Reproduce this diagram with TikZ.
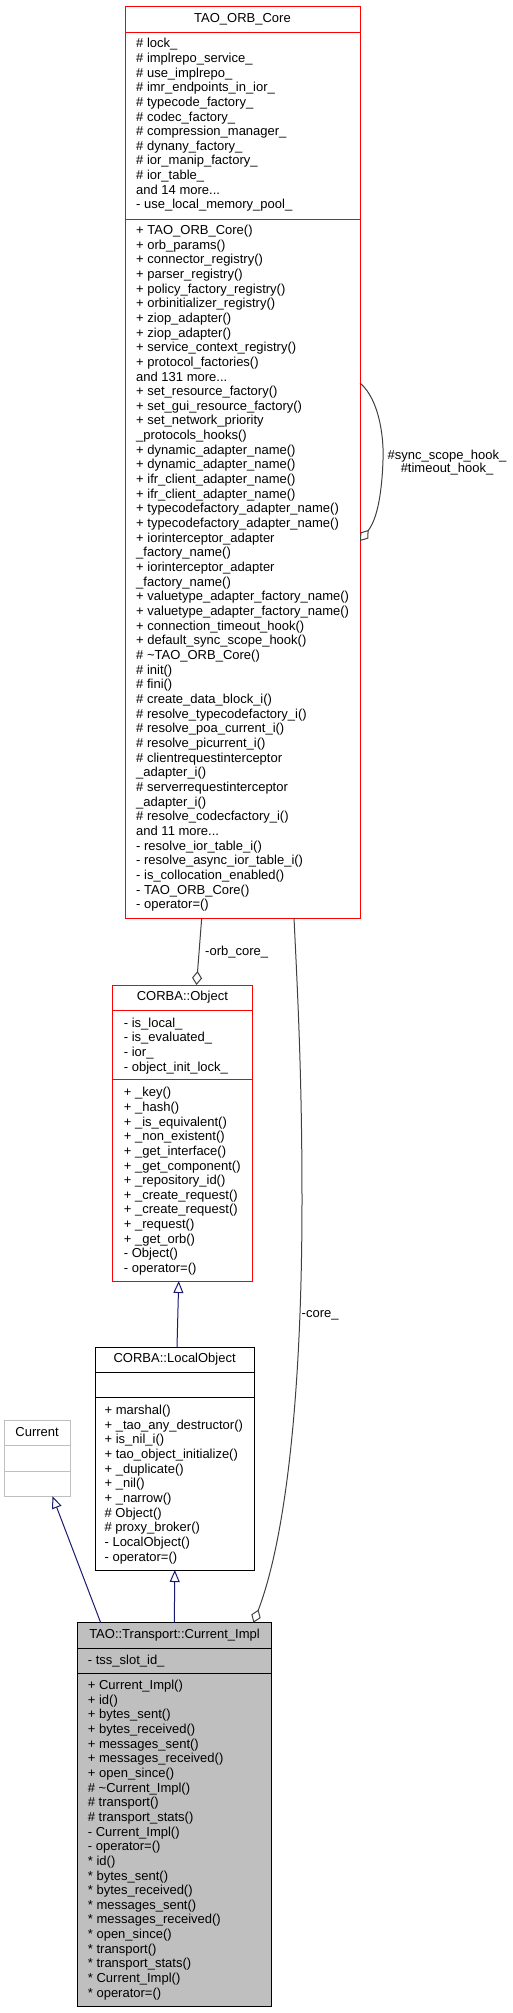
\documentclass[tikz,border=0pt]{standalone}
\usepackage{fontspec}
\setmainfont{Liberation Sans}
\usetikzlibrary{arrows.meta,calc}
\definecolor{redline}{HTML}{FF0000}
\definecolor{edgegray}{HTML}{404040}
\definecolor{navyline}{HTML}{191970}
\definecolor{greyfill}{HTML}{BFBFBF}
\newcommand{\tdots}{...}
\begin{document}
\begin{tikzpicture}[x=1pt,y=-1pt,
  cbox/.style 2 args={draw, line width=1pt, minimum width=#1, minimum height=#2, anchor=north west, inner sep=0pt, outer sep=0pt},
  txt/.style={font=\fontsize{13}{15}\selectfont, inner sep=0pt, anchor=base west},
  ttl/.style={font=\fontsize{13}{15}\selectfont, inner sep=0pt, anchor=base},
  assoc/.style={draw=edgegray, line width=1pt, -{Diamond[open, length=14pt, width=10pt]}},
  inh/.style={draw=navyline, line width=1pt, -{Triangle[open, length=12pt, width=10pt]}}]
\useasboundingbox (0,0) rectangle (513,2013);
% ---------------- TAO_ORB_Core
\node[cbox={235}{26}, draw=redline] (orbt) at (125,6) {};
\node[cbox={235}{187}, draw=redline] (orba) at (125,32) {};
\node[cbox={235}{699}, draw=redline] (orbm) at (125,219) {};
\node[ttl] (orbttl) at (242.5,22.7) {TAO\_ORB\_Core};
\foreach \mytext [count=\i from 0] in {
 {\# lock\_},{\# implrepo\_service\_},{\# use\_implrepo\_},{\# imr\_endpoints\_in\_ior\_},
 {\# typecode\_factory\_},{\# codec\_factory\_},{\# compression\_manager\_},{\# dynany\_factory\_},
 {\# ior\_manip\_factory\_},{\# ior\_table\_},{and 14 more\tdots},{- use\_local\_memory\_pool\_}}
 \node[txt] (orba\i) at (136,47.7+\i*14.66) {\mytext};
\foreach \mytext [count=\i from 0] in {
 {+ TAO\_ORB\_Core()},{+ orb\_params()},{+ connector\_registry()},{+ parser\_registry()},
 {+ policy\_factory\_registry()},{+ orbinitializer\_registry()},{+ ziop\_adapter()},{+ ziop\_adapter()},
 {+ service\_context\_registry()},{+ protocol\_factories()},{and 131 more\tdots},{+ set\_resource\_factory()},
 {+ set\_gui\_resource\_factory()},{+ set\_network\_priority},{\_protocols\_hooks()},
 {+ dynamic\_adapter\_name()},{+ dynamic\_adapter\_name()},{+ ifr\_client\_adapter\_name()},
 {+ ifr\_client\_adapter\_name()},{+ typecodefactory\_adapter\_name()},{+ typecodefactory\_adapter\_name()},
 {+ iorinterceptor\_adapter},{\_factory\_name()},{+ iorinterceptor\_adapter},{\_factory\_name()},
 {+ valuetype\_adapter\_factory\_name()},{+ valuetype\_adapter\_factory\_name()},
 {+ connection\_timeout\_hook()},{+ default\_sync\_scope\_hook()},{\# \textasciitilde TAO\_ORB\_Core()},
 {\# init()},{\# fini()},{\# create\_data\_block\_i()},{\# resolve\_typecodefactory\_i()},
 {\# resolve\_poa\_current\_i()},{\# resolve\_picurrent\_i()},{\# clientrequestinterceptor},
 {\_adapter\_i()},{\# serverrequestinterceptor},{\_adapter\_i()},{\# resolve\_codecfactory\_i()},
 {and 11 more\tdots},{- resolve\_ior\_table\_i()},{- resolve\_async\_ior\_table\_i()},
 {- is\_collocation\_enabled()},{- TAO\_ORB\_Core()},{- operator=()}}
 \node[txt] (orbm\i) at (136,234.4+\i*14.66) {\mytext};
% ---------------- CORBA::Object
\node[cbox={139.3}{25.7}, draw=redline] (objt) at (112.7,985) {};
\node[cbox={139.3}{68.6}, draw=redline] (obja) at (112.7,1010.7) {};
\node[cbox={139.3}{201.7}, draw=redline] (objm) at (112.7,1079.3) {};
\node[ttl] (objttl) at (182.35,1000.4) {CORBA::Object};
\foreach \mytext [count=\i from 0] in {
 {- is\_local\_},{- is\_evaluated\_},{- ior\_},{- object\_init\_lock\_}}
 \node[txt] (obja\i) at (123.7,1027.1+\i*14.66) {\mytext};
\foreach \mytext [count=\i from 0] in {
 {+ \_key()},{+ \_hash()},{+ \_is\_equivalent()},{+ \_non\_existent()},{+ \_get\_interface()},
 {+ \_get\_component()},{+ \_repository\_id()},{+ \_create\_request()},{+ \_create\_request()},
 {+ \_request()},{+ \_get\_orb()},{- Object()},{- operator=()}}
 \node[txt] (objm\i) at (123.7,1096.7+\i*14.66) {\mytext};
% ---------------- CORBA::LocalObject
\node[cbox={159.3}{25}, draw=black] (lot) at (95,1347.3) {};
\node[cbox={159.3}{25}, draw=black] (loa) at (95,1372.3) {};
\node[cbox={159.3}{172.7}, draw=black] (lom) at (95,1397.3) {};
\node[ttl] (lottl) at (174.65,1362.7) {CORBA::LocalObject};
\foreach \mytext [count=\i from 0] in {
 {+ marshal()},{+ \_tao\_any\_destructor()},{+ is\_nil\_i()},{+ tao\_object\_initialize()},
 {+ \_duplicate()},{+ \_nil()},{+ \_narrow()},{\# Object()},{\# proxy\_broker()},
 {- LocalObject()},{- operator=()}}
 \node[txt] (lom\i) at (104.4,1414.4+\i*14.66) {\mytext};
% ---------------- Current
\node[cbox={65.7}{25}, draw=greyfill] (curt) at (4.3,1420.7) {};
\node[cbox={65.7}{25.3}, draw=greyfill] (cura) at (4.3,1445.7) {};
\node[cbox={65.7}{25.3}, draw=greyfill] (curm) at (4.3,1471) {};
\node[ttl] (curttl) at (37.15,1436.7) {Current};
% ---------------- TAO::Transport::Current_Impl
\node[cbox={194.4}{25.6}, draw=black, fill=greyfill] (cimt) at (77.3,1622.7) {};
\node[cbox={194.4}{25}, draw=black, fill=greyfill] (cima) at (77.3,1648.3) {};
\node[cbox={194.4}{332.7}, draw=black, fill=greyfill] (cimm) at (77.3,1673.3) {};
\node[ttl] (cimttl) at (174.5,1638.4) {TAO::Transport::Current\_Impl};
\node[txt] (cima0) at (87.7,1664.4) {- tss\_slot\_id\_};
\foreach \mytext [count=\i from 0] in {
 {+ Current\_Impl()},{+ id()},{+ bytes\_sent()},{+ bytes\_received()},{+ messages\_sent()},
 {+ messages\_received()},{+ open\_since()},{\# \textasciitilde Current\_Impl()},{\# transport()},
 {\# transport\_stats()},{- Current\_Impl()},{- operator=()},{* id()},{* bytes\_sent()},
 {* bytes\_received()},{* messages\_sent()},{* messages\_received()},{* open\_since()},
 {* transport()},{* transport\_stats()},{* Current\_Impl()},{* operator=()}}
 \node[txt] (cimm\i) at (87.7,1689.4+\i*14.66) {\mytext};
% ---------------- connectors
\draw[assoc] ([yshift=-164pt]orbm.north east) .. controls (380,400) and (384,440) .. (383,460)
   .. controls (382,490) and (378,518) .. ([yshift=-322pt]orbm.north east);
\node[ttl] (lblsync) at (447,459.4) {\#sync\_scope\_hook\_};
\node[ttl] (lbltime) at (447,472.4) {\#timeout\_hook\_};
\draw[assoc] ([xshift=76.7pt]orbm.south west) -- ([xshift=83.8pt]objt.north west);
\node[txt] (lblorb) at (205,955.1) {-orb\_core\_};
\draw[assoc] ([xshift=169pt]orbm.south west) .. controls (298,1000) and (302,1080) .. (302,1200)
   .. controls (302,1400) and (285,1540) .. ([xshift=176.2pt]cimt.north west);
\node[txt] (lblcore) at (301.5,1317.7) {-core\_};
\draw[inh] ([xshift=82pt]lot.north west) -- ([xshift=66pt]objm.south west);
\draw[inh] ([xshift=97pt]cimt.north west) -- ([xshift=79.8pt]lom.south west);
\draw[inh] ([xshift=23.4pt]cimt.north west) -- ([xshift=48.2pt]curm.south west);
\end{tikzpicture}
\end{document}
